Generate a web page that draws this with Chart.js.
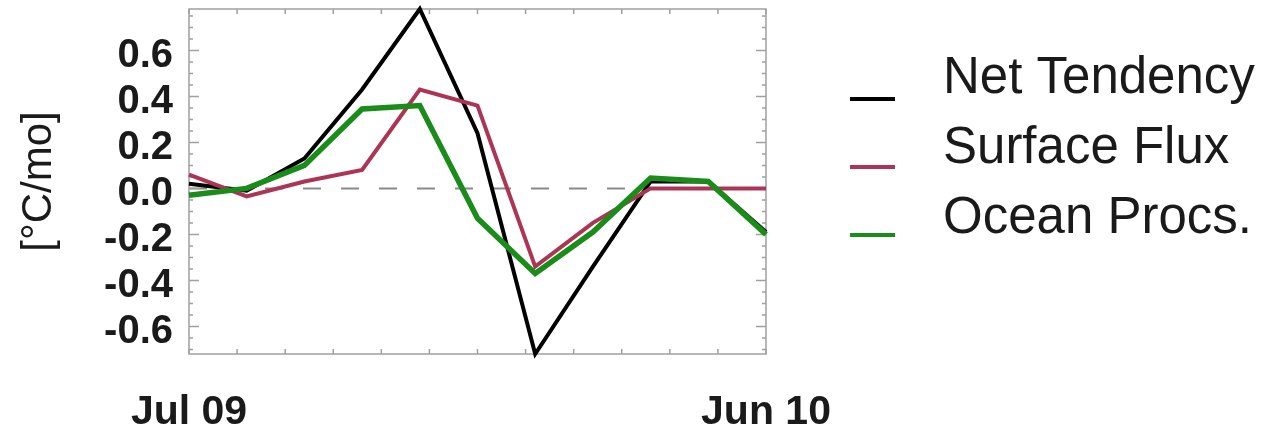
<!DOCTYPE html>
<html>
<head>
<meta charset="utf-8">
<script src="https://cdn.jsdelivr.net/npm/chart.js@4"></script>
<style>
  html, body { margin: 0; padding: 0; background: #fff; }
  #wrap { width: 1274px; height: 434px; }
</style>
</head>
<body>
<div id="wrap"><canvas id="chart" width="1274" height="434"></canvas></div>
<script>
// monthly steps, Jul 09 .. Jun 10
const steps = [0, 1, 2, 3, 4, 5, 6, 7, 8, 9, 10];
const xTickLabels = ['Jul 09', 'Jun 10'];
const yTickValues = [-0.6, -0.4, -0.2, 0.0, 0.2, 0.4, 0.6];

const netTendency = [0.02, -0.01, 0.13, 0.43, 0.78, 0.24, -0.72, -0.34, 0.03, 0.03, -0.19];
const surfaceFlux = [0.06, -0.035, 0.03, 0.08, 0.43, 0.36, -0.34, -0.15, 0.0, 0.0, 0.0];
const oceanProcs  = [-0.03, 0.0, 0.10, 0.345, 0.36, -0.13, -0.37, -0.19, 0.045, 0.03, -0.2];

const seriesNames = ['Net Tendency', 'Surface Flux', 'Ocean Procs.'];
const seriesColors = ['#000000', '#ac3455', '#1a8c1a'];

const FONT = '"Liberation Sans", Arial, Helvetica, sans-serif';

function pts(vals) {
  return vals.map((v, i) => ({ x: steps[i], y: v }));
}

// frame, inward tick marks and the dashed zero line
const framePlugin = {
  id: 'frame',
  beforeDatasetsDraw(chart) {
    const { ctx, chartArea: a, scales } = chart;
    const x = scales.x, y = scales.y;
    ctx.save();
    // zero line
    ctx.strokeStyle = '#8a8a8a';
    ctx.lineWidth = 2;
    ctx.setLineDash([18, 20]);
    ctx.beginPath();
    ctx.moveTo(a.left, y.getPixelForValue(0));
    ctx.lineTo(a.right, y.getPixelForValue(0));
    ctx.stroke();
    ctx.setLineDash([]);

    ctx.strokeStyle = '#a0a0a0';
    ctx.lineWidth = 1.5;
    ctx.strokeRect(a.left, a.top, a.right - a.left, a.bottom - a.top);

    ctx.beginPath();
    // x ticks, 12 divisions
    for (let i = 0; i <= 12; i++) {
      const px = x.getPixelForValue(x.min + (x.max - x.min) * i / 12);
      ctx.moveTo(px, a.bottom); ctx.lineTo(px, a.bottom - 5);
      ctx.moveTo(px, a.top); ctx.lineTo(px, a.top + 5);
    }
    // y ticks, minor every 0.05
    for (let k = Math.ceil(y.min / 0.05); k * 0.05 <= y.max + 1e-9; k++) {
      const py = y.getPixelForValue(k * 0.05);
      const len = (k % 4 === 0) ? 10 : 4;
      ctx.moveTo(a.left, py); ctx.lineTo(a.left + len, py);
      ctx.moveTo(a.right, py); ctx.lineTo(a.right - len, py);
    }
    ctx.stroke();
    ctx.restore();
  }
};

// legend: label text with its line sample just below-left
const sideLegend = {
  id: 'sideLegend',
  afterDraw(chart) {
    const ctx = chart.ctx;
    ctx.save();
    ctx.font = '51px ' + FONT;
    ctx.textBaseline = 'middle';
    ctx.textAlign = 'left';
    chart.data.datasets.forEach((ds, i) => {
      const ty = 79 + i * 70;
      const ly = 99 + i * 68;
      ctx.fillStyle = '#1a1a1a';
      ctx.fillText(ds.label, 943, ty);
      ctx.strokeStyle = ds.borderColor;
      ctx.lineWidth = 4;
      ctx.beginPath();
      ctx.moveTo(850, ly);
      ctx.lineTo(895, ly);
      ctx.stroke();
    });
    ctx.restore();
  }
};

const series = [netTendency, surfaceFlux, oceanProcs];
const widths = [4, 4, 5.5];
const orders = [2, 1, 0];

new Chart(document.getElementById('chart').getContext('2d'), {
  type: 'line',
  data: {
    datasets: series.map((vals, i) => ({
      label: seriesNames[i],
      data: pts(vals),
      borderColor: seriesColors[i],
      borderWidth: widths[i],
      pointRadius: 0,
      tension: 0,
      fill: false,
      clip: false,
      order: orders[i],
    }))
  },
  options: {
    responsive: false,
    animation: false,
    devicePixelRatio: 1,
    layout: { padding: { top: 9, right: 508, bottom: 0, left: 0 } },
    plugins: {
      legend: { display: false },
      tooltip: { enabled: false },
    },
    scales: {
      x: {
        type: 'linear',
        min: 0,
        max: 10,
        afterBuildTicks: s => { s.ticks = [{ value: 0 }, { value: 10 }]; },
        afterFit: s => { s.height = 80; s.paddingLeft = 0; s.paddingRight = 0; },
        grid: { display: false, drawTicks: false },
        border: { display: false },
        ticks: {
          padding: 34,
          maxRotation: 0,
          color: '#1a1a1a',
          font: { family: FONT, size: 41, weight: 'bold' },
          callback: (v) => v === 0 ? xTickLabels[0] : xTickLabels[1],
        },
      },
      y: {
        min: -0.72,
        max: 0.78,
        afterBuildTicks: s => { s.ticks = yTickValues.map(v => ({ value: v })); },
        afterFit: s => { s.width = 189; s.paddingTop = 0; s.paddingBottom = 0; },
        grid: { display: false, drawTicks: false },
        border: { display: false },
        ticks: {
          padding: 16,
          color: '#1a1a1a',
          // labels sit a little below their tick marks, as in the original
          font: { family: FONT, size: 40, weight: 'bold', lineHeight: '12px' },
          callback: v => ['', v.toFixed(1)],
        },
        title: {
          display: true,
          text: '[°C/mo]',
          color: '#1a1a1a',
          font: { family: FONT, size: 42 },
          padding: { top: 14, bottom: 0 },
        },
      },
    },
  },
  plugins: [framePlugin, sideLegend],
});
</script>
</body>
</html>
